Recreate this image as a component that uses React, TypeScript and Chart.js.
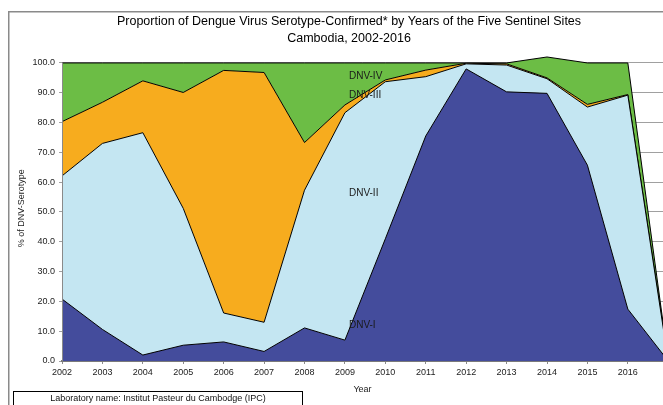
import React, { useEffect, useRef } from "react";
import { Chart, registerables } from "chart.js";

Chart.register(...registerables);

// ---- data ----
const years = [2002, 2003, 2004, 2005, 2006, 2007, 2008, 2009, 2010, 2011, 2012, 2013, 2014, 2015, 2016, 2017];
const dnvI = [20.8, 10.6, 2.0, 5.3, 6.4, 3.2, 11.1, 7.0, 41.0, 75.5, 98.0, 90.3, 89.8, 65.7, 17.4, 0];
const dnvII = [41.3, 62.4, 74.6, 45.9, 9.7, 9.8, 46.2, 76.3, 52.7, 19.9, 1.7, 9.0, 4.9, 19.5, 71.8, 0];
const dnvIII = [18.2, 13.8, 17.4, 38.9, 81.4, 83.8, 16.0, 2.6, 0.6, 2.2, 0.2, 0.4, 0.3, 0.9, 0.2, 0];
const dnvIV = [19.7, 13.2, 6.0, 9.9, 2.5, 3.2, 26.7, 14.1, 5.7, 2.4, 0.1, 0.3, 7.0, 13.9, 10.6, 0];
const seriesNames = ["DNV-I", "DNV-II", "DNV-III", "DNV-IV"];
const seriesColors = ["#444c9c", "#c4e6f2", "#f7ac1e", "#6cbd45"];
const titleLines = [
  "Proportion of Dengue Virus Serotype-Confirmed* by Years of the Five Sentinel Sites",
  "Cambodia, 2002-2016",
];
const yAxisTitle = "% of DNV-Serotype";
const xAxisTitle = "Year";
const footnote = "Laboratory name: Institut Pasteur du Cambodge (IPC)";
const yTickMax = 100;

const FONT = "'Liberation Sans', Arial, sans-serif";

export default function App() {
  const ref = useRef<HTMLCanvasElement | null>(null);

  useEffect(() => {
    const canvas = ref.current;
    if (!canvas) return;
    const series = [dnvI, dnvII, dnvIII, dnvIV];

    const decor = {
      id: "decor",
      beforeDraw(chart: any) {
        const ctx = chart.ctx;
        ctx.save();
        ctx.fillStyle = "#ffffff";
        ctx.fillRect(0, 0, chart.width, chart.height);
        ctx.restore();
      },
      afterDraw(chart: any) {
        const ctx = chart.ctx;
        const xs = chart.scales.x;
        const ys = chart.scales.y;
        ctx.save();
        // y axis line (0..100 only)
        ctx.strokeStyle = "#8a8a8a";
        ctx.lineWidth = 1;
        ctx.beginPath();
        const ax = Math.round(chart.chartArea.left) + 0.5;
        ctx.moveTo(ax, ys.getPixelForValue(0));
        ctx.lineTo(ax, Math.round(ys.getPixelForValue(yTickMax)) - 0.5);
        ctx.stroke();
        // outer frame
        ctx.strokeStyle = "#8a8a8a";
        ctx.lineWidth = 1.5;
        ctx.beginPath();
        ctx.moveTo(8.75, 405);
        ctx.lineTo(8.75, 11.75);
        ctx.lineTo(663, 11.75);
        ctx.stroke();
        // title
        ctx.fillStyle = "#000";
        ctx.font = `12.5px ${FONT}`;
        ctx.textAlign = "center";
        ctx.textBaseline = "middle";
        ctx.fillText(titleLines[0], 349, 22);
        ctx.fillText(titleLines[1], 349, 39);
        // series labels inside areas
        ctx.font = `10px ${FONT}`;
        ctx.textAlign = "left";
        ctx.fillStyle = "#1a1a1a";
        const anchorYear = 2009.1;
        const anchorVals = [12.0, 56.3, 89.2, 95.6];
        seriesNames.forEach((n, i) => {
          ctx.fillText(n, xs.getPixelForValue(anchorYear), ys.getPixelForValue(anchorVals[i]));
        });
        // footnote box
        ctx.strokeStyle = "#000";
        ctx.lineWidth = 1;
        ctx.strokeRect(13.5, 391.5, 289, 20);
        ctx.font = `9px ${FONT}`;
        ctx.textAlign = "center";
        ctx.fillStyle = "#111";
        ctx.fillText(footnote, 158, 398.5);
        ctx.restore();
      },
    };

    const chart = new Chart(canvas, {
      type: "line",
      data: {
        datasets: series.map((arr, i) => ({
          label: seriesNames[i],
          data: years.map((x, j) => ({ x, y: arr[j] })),
          backgroundColor: seriesColors[i],
          borderColor: "#000000",
          borderWidth: 1,
          fill: i === 0 ? "origin" : "-1",
          pointRadius: 0,
          tension: 0,
        })),
      },
      options: {
        responsive: false,
        animation: false,
        devicePixelRatio: 1,
        layout: { padding: { left: 8, top: 55.5, right: 0, bottom: 4 } },
        plugins: {
          legend: { display: false },
          title: { display: false },
          tooltip: { enabled: false },
        },
        scales: {
          x: {
            type: "linear",
            min: 2002,
            max: 2016.87,
            afterFit: (s: any) => {
              s.height = 40;
            },
            grid: {
              drawOnChartArea: false,
              drawTicks: true,
              tickLength: 3,
              color: "#8a8a8a",
            },
            border: { color: "#7a7a7a", width: 2 },
            ticks: {
              stepSize: 1,
              includeBounds: false,
              autoSkip: false,
              maxRotation: 0,
              padding: 3,
              color: "#222",
              font: { family: FONT, size: 9 },
              callback: (v: any) => String(v),
            },
            title: {
              display: true,
              text: xAxisTitle,
              color: "#222",
              font: { family: FONT, size: 9 },
              padding: { top: 0, bottom: 6 },
            },
          },
          y: {
            stacked: true,
            min: 0,
            max: 102.5,
            afterFit: (s: any) => {
              s.width = 54;
            },
            afterBuildTicks: (s: any) => {
              s.ticks = s.ticks.filter((t: any) => t.value <= yTickMax);
            },
            grid: {
              color: "#a0a0a0",
              tickLength: 3,
              lineWidth: 1,
            },
            border: { display: false },
            ticks: {
              stepSize: 10,
              includeBounds: false,
              padding: 4,
              color: "#222",
              font: { family: FONT, size: 9 },
              callback: (v: any) => Number(v).toFixed(1),
            },
            title: {
              display: true,
              text: yAxisTitle,
              color: "#222",
              font: { family: FONT, size: 9 },
              padding: { top: 8, bottom: 0 },
            },
          },
        },
      },
      plugins: [decor],
    } as any);

    return () => chart.destroy();
  }, []);

  return (
    <div style={{ position: "fixed", left: 0, top: 0, width: 663, height: 405, overflow: "hidden", background: "#fff" }}>
      <canvas ref={ref} width={663} height={405} style={{ display: "block", width: 663, height: 405 }} />
    </div>
  );
}
